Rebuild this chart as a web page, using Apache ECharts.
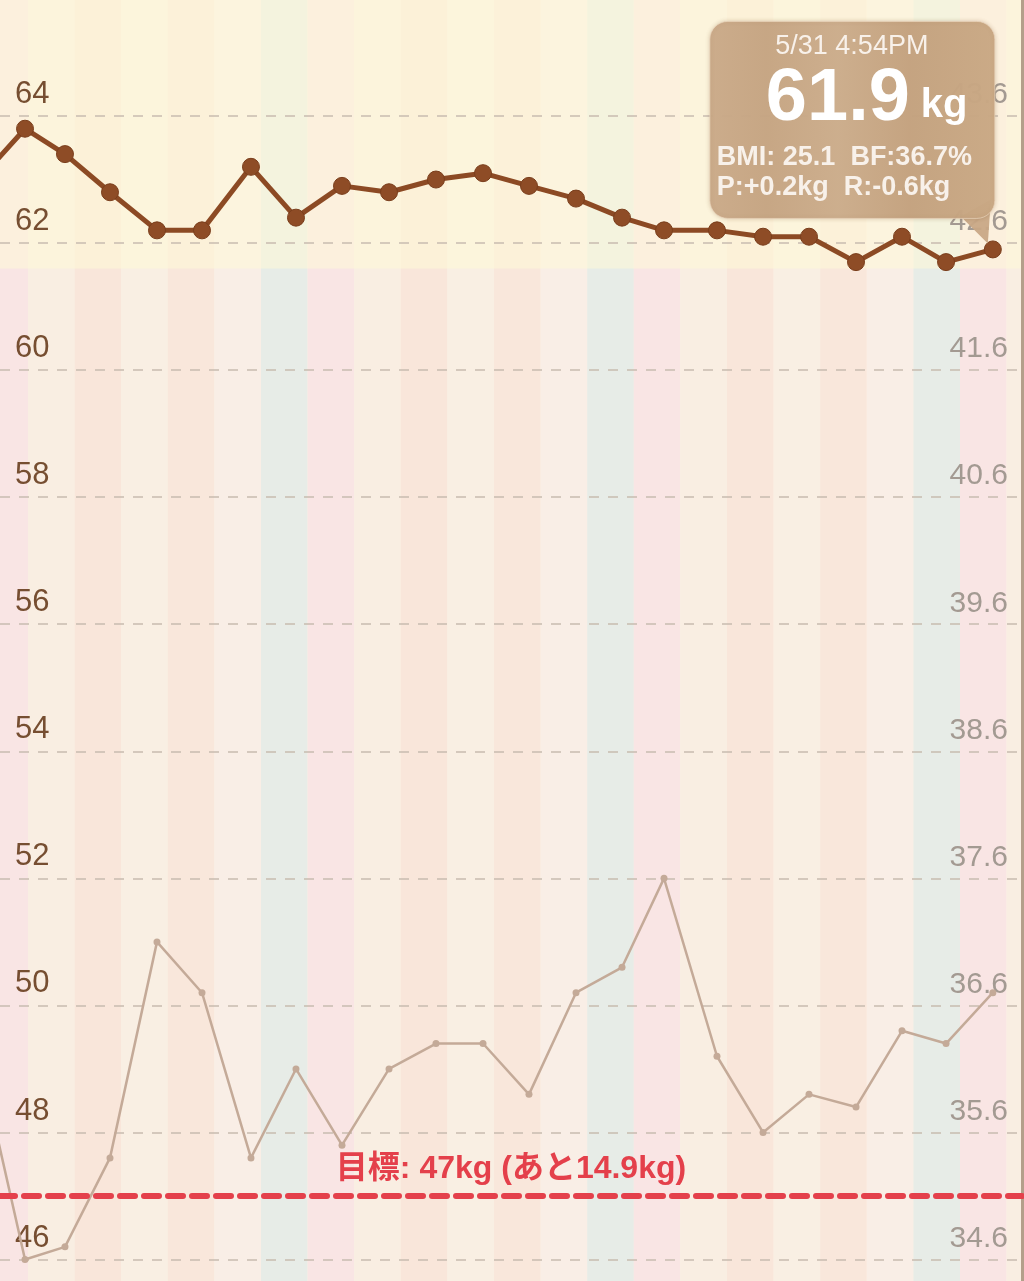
<!DOCTYPE html>
<html><head><meta charset="utf-8">
<script src="https://cdn.jsdelivr.net/npm/echarts@6/dist/echarts.min.js"></script>
<style>html,body{margin:0;padding:0;background:#fbf3e6}#c{width:1024px;height:1281px}</style>
</head><body><div id="c"></div>
<script>
// ---- data ----
const times = ['2020-05-09 22:50','2020-05-10 22:28','2020-05-11 19:03','2020-05-12 18:14','2020-05-13 18:26',
  '2020-05-14 17:37','2020-05-15 18:50','2020-05-16 18:01','2020-05-17 17:43','2020-05-18 17:56',
  '2020-05-19 18:07','2020-05-20 18:20','2020-05-21 18:01','2020-05-22 18:14','2020-05-23 17:56',
  '2020-05-24 15:33','2020-05-25 18:50','2020-05-26 18:33','2020-05-27 18:14','2020-05-28 18:26',
  '2020-05-29 18:07','2020-05-30 16:48','2020-05-31 16:54'];
const weight = [63.0,63.8,63.4,62.8,62.2,62.2,63.2,62.4,62.9,62.8,63.0,63.1,62.9,62.7,62.4,62.2,62.2,62.1,62.1,61.7,62.1,61.7,61.9];
const bodyFat = [36.2,34.6,34.7,35.4,37.1,36.7,35.4,36.1,35.5,36.1,36.3,36.3,35.9,36.7,36.9,37.6,36.2,35.6,35.9,35.8,36.4,36.3,36.7];
const weightTicks = [46,48,50,52,54,56,58,60,62,64];
const fatTicks = [34.6,35.6,36.6,37.6,38.6,39.6,40.6,41.6,42.6,43.6];
const goalWeight = 47;
const bmiText = 'BMI: 25.1';
const rText = 'R:-0.6kg';
const viewStart = '2020-05-10 09:35';
const viewEnd = '2020-06-01 07:55';
const weightRange = [45.662, 65.826];
const fatRange = [34.431, 44.513];
const zoneFrom = 61.6;

function ts(s){const [d,t]=s.split(' ');const [Y,M,D]=d.split('-').map(Number);const [h,m]=t.split(':').map(Number);return new Date(Y,M-1,D,h,m).getTime();}
const wData = times.map((t,i)=>[ts(t),weight[i]]);
const fData = times.map((t,i)=>[ts(t),bodyFat[i]]);

// day stripes coloured by weekday
const dayColors = ['#f9e5e4','#f9eee2','#f9e6da','#f9efe3','#f9e7db','#f9eee6','#e7ece7'];
const bands = [];
for (let d = new Date(2020,4,9); d <= new Date(2020,5,1); d = new Date(d.getFullYear(), d.getMonth(), d.getDate()+1)) {
  const e = new Date(d.getFullYear(), d.getMonth(), d.getDate()+1);
  bands.push([{xAxis:d.getTime(), itemStyle:{color:dayColors[d.getDay()]}},{xAxis:e.getTime()}]);
}

const last = weight.length-1;
const remain = (weight[last]-goalWeight).toFixed(1);
const diffPrev = weight[last]-weight[last-1];
const lastDate = new Date(ts(times[last]));
function fmtTime(d){let h=d.getHours();const ap=h>=12?'PM':'AM';h=h%12||12;return (d.getMonth()+1)+'/'+d.getDate()+' '+h+':'+String(d.getMinutes()).padStart(2,'0')+ap;}

const font = "'Liberation Sans', Arial, Helvetica, sans-serif";
const chart = echarts.init(document.getElementById('c'), null, {renderer:'canvas'});
chart.setOption({
  animation:false,
  backgroundColor:'#fbf3e6',
  grid:{left:0,right:2,top:0,bottom:0},
  xAxis:{type:'time',min:ts(viewStart),max:ts(viewEnd),show:false},
  yAxis:[
    {type:'value',position:'left',min:weightRange[0],max:weightRange[1],z:2,
      axisLine:{show:false},axisTick:{show:false,customValues:weightTicks},
      axisLabel:{inside:true,customValues:weightTicks,margin:15,verticalAlign:'bottom',padding:[0,0,6,0],
        color:'#764e31',fontSize:31,fontFamily:font},
      splitLine:{show:true,lineStyle:{color:'#c8bcb0',width:1.5,type:[10,9]}}},
    {type:'value',position:'right',min:fatRange[0],max:fatRange[1],z:2,
      axisLine:{show:true,lineStyle:{color:'#b39f8a',width:3}},axisTick:{show:false,customValues:fatTicks},
      axisLabel:{inside:true,customValues:fatTicks,margin:14,verticalAlign:'bottom',padding:[0,0,6,0],
        color:'#a39a92',fontSize:30,fontFamily:font,formatter:v=>v.toFixed(1)},
      splitLine:{show:false}}
  ],
  series:[
    {type:'line',data:[],silent:true,markArea:{silent:true,z:1,data:bands}},
    {type:'line',data:[],silent:true,markArea:{silent:true,z:1.5,
      itemStyle:{color:'rgba(255,250,215,0.55)'},data:[[{yAxis:zoneFrom},{yAxis:weightRange[1]}]]}},
    {type:'line',name:'bodyfat',yAxisIndex:1,data:fData,z:3,symbol:'circle',symbolSize:7,
      lineStyle:{color:'#c4aa98',width:2.5},itemStyle:{color:'#c4aa98'}},
    {type:'line',name:'weight',yAxisIndex:0,data:wData,z:4,symbol:'circle',symbolSize:17,
      lineStyle:{color:'#8c4a24',width:5},itemStyle:{color:'#8e4c26',borderColor:'#7a3e1c',borderWidth:1},
      markLine:{silent:true,z:5,symbol:'none',
        lineStyle:{color:'#e4404b',width:6,type:[15,9],cap:'round'},
        label:{show:true,position:'insideMiddleTop',distance:11,color:'#e4404b',fontSize:32,fontWeight:'bold',
          fontFamily:"'Liberation Sans', 'Noto Sans CJK JP', sans-serif",
          formatter:'目標: '+goalWeight+'kg (あと'+remain+'kg)'},
        data:[{yAxis:goalWeight}]}}
  ]
});

// callout box for the latest measurement, anchored to its point
const p = chart.convertToPixel({xAxisIndex:0,yAxisIndex:0}, wData[last]);
const x0 = p[0], y0 = p[1];
const txt = '#f8f1ea';
const Z = 100;
chart.setOption({graphic:[
  {type:'polygon',z:Z,shape:{points:[[x0-32,y0-33],[x0-2,y0-50],[x0-5,y0-6]]},style:{fill:'#c9a886',opacity:0.95}},
  {type:'rect',z:Z,shape:{x:x0-283,y:y0-228,width:285,height:197,r:18},
    style:{fill:new echarts.graphic.LinearGradient(0,0,1,0,[
      {offset:0,color:'#cbab8a'},{offset:0.2,color:'#c6a583'},{offset:0.45,color:'#ccad8c'},
      {offset:0.7,color:'#c4a27f'},{offset:1,color:'#caa985'}]),opacity:0.96,
      stroke:'rgba(235,215,190,0.7)',lineWidth:1,
      shadowColor:'rgba(120,80,40,0.25)',shadowBlur:4}},
  {type:'text',z:Z+1,x:x0-141,y:y0-203,style:{text:fmtTime(lastDate),fill:txt,font:'27px '+font,align:'center',verticalAlign:'middle'}},
  {type:'text',z:Z+1,x:x0-83,y:y0-150,style:{text:weight[last].toFixed(1),fill:'#ffffff',font:'bold 74px '+font,align:'right',verticalAlign:'middle'}},
  {type:'text',z:Z+1,x:x0-72,y:y0-143,style:{text:'kg',fill:'#ffffff',font:'bold 40px '+font,align:'left',verticalAlign:'middle'}},
  {type:'text',z:Z+1,x:x0-276,y:y0-92,style:{text:bmiText+'  BF:'+bodyFat[last].toFixed(1)+'%',fill:txt,font:'bold 27px '+font,align:'left',verticalAlign:'middle'}},
  {type:'text',z:Z+1,x:x0-276,y:y0-62,style:{text:'P:'+(diffPrev>=0?'+':'')+diffPrev.toFixed(1)+'kg  '+rText,fill:txt,font:'bold 27px '+font,align:'left',verticalAlign:'middle'}}
]});
</script></body></html>
